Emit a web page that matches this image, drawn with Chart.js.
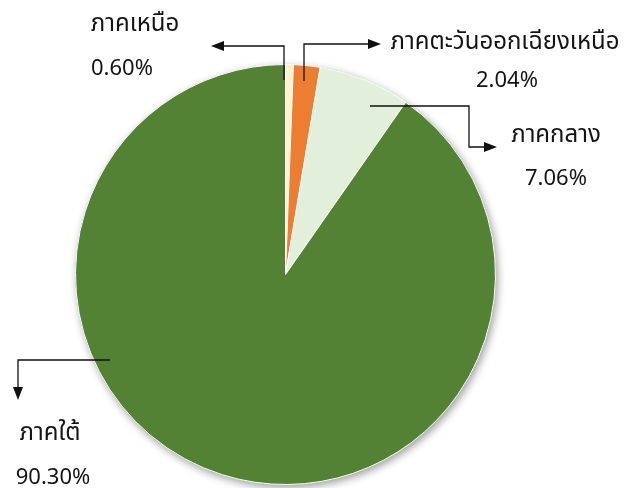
<!DOCTYPE html>
<html><head><meta charset="utf-8">
<script src="https://cdn.jsdelivr.net/npm/chart.js@4.4.1/dist/chart.umd.min.js"></script>
<style>html,body{margin:0;padding:0;background:#fff;overflow:hidden}</style>
</head><body>
<canvas id="c" width="624" height="488"></canvas>
<script>
// ---- data ----
const regions = ['ภาคเหนือ', 'ภาคตะวันออกเฉียงเหนือ', 'ภาคกลาง', 'ภาคใต้'];
const shares = [0.60, 2.04, 7.06, 90.30];
const shareLabels = ['0.60%', '2.04%', '7.06%', '90.30%'];

// ---- styles / layout (kept separate from data) ----
const sliceColors = ['#FFF2CC', '#ED7D31', '#E2EFDA', '#548235'];
const FONT = "'Noto Sans Thai', 'Leelawadee UI', Tahoma, 'Noto Sans', 'DejaVu Sans', sans-serif";
// callouts: leader path (canvas px), name position, value position (center x, baseline y)
const callouts = [
  {path: [[284, 80], [284, 46], [211, 46]], name: [135, 31], value: [122, 75]},
  {path: [[304, 81], [304, 44], [381, 44]], name: [505, 49], value: [507, 87]},
  {path: [[370, 106], [469, 106], [469, 147], [497, 147]], name: [556, 142], value: [556, 185]},
  {path: [[110, 360], [18, 360], [18, 400]], name: [50, 440], value: [53, 484]}
];

const shadowPlugin = {
  id: 'pieShadow',
  beforeDatasetsDraw(chart) {
    const arc = chart.getDatasetMeta(0).data[0];
    if (!arc) return;
    const ctx = chart.ctx;
    ctx.save();
    ctx.shadowColor = 'rgba(0,0,0,0.4)';
    ctx.shadowBlur = 9;
    ctx.shadowOffsetX = 2;
    ctx.shadowOffsetY = 3;
    ctx.fillStyle = '#548235';
    ctx.beginPath();
    ctx.arc(arc.x, arc.y, arc.outerRadius, 0, Math.PI * 2);
    ctx.fill();
    ctx.restore();
  }
};

function arrowHead(ctx, from, to) {
  const ang = Math.atan2(to[1] - from[1], to[0] - from[0]);
  const len = 13, hw = 5;
  ctx.beginPath();
  ctx.moveTo(to[0], to[1]);
  ctx.lineTo(to[0] - len * Math.cos(ang) + hw * Math.sin(ang), to[1] - len * Math.sin(ang) - hw * Math.cos(ang));
  ctx.lineTo(to[0] - len * Math.cos(ang) - hw * Math.sin(ang), to[1] - len * Math.sin(ang) + hw * Math.cos(ang));
  ctx.closePath();
  ctx.fill();
}

const calloutPlugin = {
  id: 'callouts',
  afterDraw(chart) {
    const ctx = chart.ctx;
    ctx.save();
    ctx.lineWidth = 1.3;
    callouts.forEach((c, i) => {
      const p = c.path;
      const n = p.length;
      const last = p[n - 1], prev = p[n - 2];
      const ang = Math.atan2(last[1] - prev[1], last[0] - prev[0]);
      ctx.strokeStyle = '#111';
      ctx.fillStyle = '#111';
      ctx.beginPath();
      ctx.moveTo(p[0][0], p[0][1]);
      for (let k = 1; k < n - 1; k++) ctx.lineTo(p[k][0], p[k][1]);
      ctx.lineTo(last[0] - 10 * Math.cos(ang), last[1] - 10 * Math.sin(ang));
      ctx.stroke();
      arrowHead(ctx, prev, last);
      ctx.textAlign = 'center';
      ctx.textBaseline = 'alphabetic';
      ctx.fillStyle = '#141414';
      ctx.font = '24px ' + FONT;
      ctx.fillText(regions[i], c.name[0], c.name[1]);
      ctx.font = '22px ' + FONT;
      ctx.fillText(shareLabels[i], c.value[0], c.value[1]);
    });
    ctx.restore();
  }
};

new Chart(document.getElementById('c'), {
  type: 'pie',
  data: {
    labels: regions,
    datasets: [{
      data: shares,
      backgroundColor: sliceColors,
      borderColor: '#ffffff',
      borderWidth: 1
    }]
  },
  options: {
    responsive: false,
    animation: false,
    devicePixelRatio: 1,
    layout: {padding: {left: 75, right: 128, top: 64, bottom: 3}},
    plugins: {legend: {display: false}, tooltip: {enabled: false}}
  },
  plugins: [shadowPlugin, calloutPlugin]
});
</script>
</body></html>
